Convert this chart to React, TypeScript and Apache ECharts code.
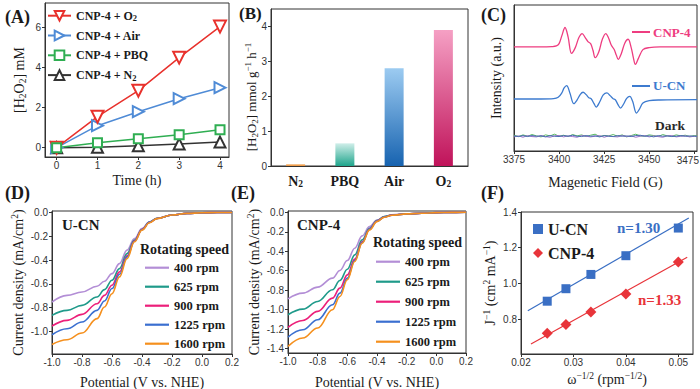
import React, { useEffect, useRef } from 'react';
import * as echarts from 'echarts';

const SERIF = '"Liberation Serif","Times New Roman",serif';
const SANS = '"Liberation Sans",Arial,sans-serif';
const INK = '#1a1a1a';
const AXIS = '#333333';

// ---------- Panel A : H2O2 production vs time ----------
const TIME_H = [0, 1, 2, 3, 4];
const H2O2_O2 = [0, 1.55, 2.85, 4.5, 6.05];
const H2O2_AIR = [0, 1.1, 1.8, 2.45, 3.0];
const H2O2_PBQ = [0, 0.25, 0.45, 0.65, 0.9];
const H2O2_N2 = [0, 0.02, 0.1, 0.18, 0.28];
const A_X_TICKS = [0, 1, 2, 3, 4];
const A_Y_TICKS = [0, 2, 4, 6];

// ---------- Panel B : production rate ----------
const B_CATEGORIES = ['N2', 'PBQ', 'Air', 'O2'];
const B_RATES = [0.05, 0.65, 2.8, 3.9];
const B_Y_TICKS = [0, 1, 2, 3, 4];

// ---------- Panel C : EPR spectra ----------
const EPR_CNP_FIELD = [3375, 3390, 3396, 3398.5, 3400, 3401.5, 3403.3, 3405, 3406.9, 3409, 3411, 3412.8, 3414.5, 3416, 3417.5, 3418.8, 3420, 3422, 3424, 3425.9, 3427.5, 3429, 3430.5, 3431.8, 3432.8, 3434.5, 3436.5, 3438.3, 3440, 3441.2, 3442.3, 3444, 3446.5, 3450, 3456, 3476.5];
const EPR_CNP_INT = [31.0, 31.0, 31.1, 31.3, 32.0, 34.3, 36.8, 34.0, 29.1, 30.8, 33.8, 35.0, 33.8, 32.6, 32.0, 30.0, 27.8, 29.5, 33.3, 35.0, 33.6, 31.5, 30.3, 28.5, 27.3, 29.0, 32.2, 33.3, 30.8, 27.8, 25.8, 27.6, 30.2, 30.8, 31.0, 31.0];
const EPR_UCN_FIELD = [3375, 3390, 3397, 3399.5, 3401.5, 3402.8, 3404.2, 3406, 3408.2, 3410, 3411.8, 3413.3, 3415, 3416.5, 3417.9, 3419.3, 3420.6, 3422.5, 3424.5, 3426.5, 3428.3, 3430, 3431.3, 3432.7, 3434.1, 3435.8, 3437.5, 3439.2, 3440.8, 3442.9, 3444.5, 3446.5, 3450, 3456, 3476.5];
const EPR_UCN_INT = [15.5, 15.5, 15.6, 16.0, 17.3, 18.8, 19.5, 17.3, 14.1, 15.2, 16.9, 17.5, 16.8, 15.9, 15.5, 14.2, 13.1, 14.6, 16.7, 17.3, 16.5, 15.6, 15.2, 13.8, 12.8, 14.0, 15.7, 16.3, 14.8, 11.3, 12.4, 14.3, 15.0, 15.2, 15.3];
const DARK_FIELD = [3375, 3377.5, 3380, 3382.5, 3385, 3387.5, 3390, 3392.5, 3395, 3397.5, 3400, 3402.5, 3405, 3407.5, 3410, 3412.5, 3415, 3417.5, 3420, 3422.5, 3425, 3427.5, 3430, 3432.5, 3435, 3437.5, 3440, 3442.5, 3445, 3447.5, 3450, 3452.5, 3455, 3457.5, 3460, 3462.5, 3465, 3467.5, 3470, 3472.5, 3475, 3476.5];
const DARK_A = [4.7, 4.3, 4.8, 4.4, 4.9, 4.5, 4.2, 4.8, 4.5, 5.0, 4.4, 4.7, 4.3, 4.9, 4.5, 4.8, 4.3, 4.7, 5.0, 4.3, 4.6, 4.5, 4.9, 4.4, 4.8, 4.2, 4.6, 5.0, 4.5, 4.4, 4.8, 4.6, 4.3, 4.9, 4.5, 4.4, 4.8, 4.5, 4.7, 4.3, 4.6, 4.5];
const DARK_B = [4.2, 4.5, 4.1, 4.6, 4.3, 4.2, 4.6, 4.3, 4.1, 4.5, 4.6, 4.2, 4.5, 4.3, 4.1, 4.6, 4.4, 4.2, 4.4, 4.6, 4.1, 4.5, 4.3, 4.2, 4.6, 4.3, 4.5, 4.1, 4.4, 4.6, 4.2, 4.5, 4.3, 4.1, 4.5, 4.6, 4.2, 4.4, 4.5, 4.2, 4.4, 4.3];
const DARK_C = [4.5, 4.3, 4.6, 4.3, 4.6, 4.4, 4.5, 4.2, 4.6, 4.4, 4.3, 4.6, 4.4, 4.7, 4.4, 4.3, 4.6, 4.4, 4.5, 4.2, 4.6, 4.4, 4.3, 4.6, 4.4, 4.5, 4.3, 4.6, 4.7, 4.4, 4.5, 4.2, 4.6, 4.4, 4.5, 4.3, 4.4, 4.6, 4.4, 4.5, 4.4, 4.4];
const C_X_TICKS = [3375, 3400, 3425, 3450, 3475];
const C_X_EDGE_LABEL = '3475';

// ---------- Panels D / E : LSV curves ----------
const POTENTIAL = [-1.0, -0.9, -0.8, -0.7, -0.65, -0.6, -0.55, -0.5, -0.45, -0.4, -0.35, -0.3, -0.2, -0.1, 0.0, 0.1, 0.2];
const RPM_NAMES = ['400 rpm', '625 rpm', '900 rpm', '1225 rpm', '1600 rpm'];
const UCN_400 = [-0.753, -0.697, -0.669, -0.621, -0.579, -0.514, -0.43, -0.317, -0.219, -0.135, -0.079, -0.05, -0.022, -0.008, -0.003, -0.001, 0];
const UCN_625 = [-0.865, -0.823, -0.781, -0.711, -0.649, -0.57, -0.472, -0.346, -0.233, -0.143, -0.081, -0.05, -0.022, -0.008, -0.003, -0.001, 0];
const UCN_900 = [-0.955, -0.907, -0.857, -0.767, -0.697, -0.612, -0.5, -0.365, -0.239, -0.143, -0.084, -0.051, -0.022, -0.008, -0.003, -0.001, 0];
const UCN_1225 = [-1.028, -0.978, -0.921, -0.823, -0.744, -0.64, -0.52, -0.374, -0.242, -0.146, -0.084, -0.051, -0.022, -0.008, -0.003, -0.001, 0];
const UCN_1600 = [-1.11, -1.07, -1.014, -0.893, -0.795, -0.683, -0.542, -0.388, -0.247, -0.149, -0.087, -0.052, -0.022, -0.008, -0.003, -0.001, 0];
const CNP_400 = [-0.888, -0.83, -0.768, -0.676, -0.597, -0.495, -0.369, -0.242, -0.147, -0.079, -0.044, -0.027, -0.017, -0.01, -0.004, -0.001, 0];
const CNP_625 = [-1.052, -0.994, -0.915, -0.795, -0.7, -0.584, -0.437, -0.283, -0.164, -0.085, -0.044, -0.028, -0.017, -0.01, -0.004, -0.001, 0];
const CNP_900 = [-1.18, -1.11, -1.017, -0.881, -0.778, -0.642, -0.481, -0.304, -0.171, -0.089, -0.048, -0.029, -0.017, -0.01, -0.004, -0.001, 0];
const CNP_1225 = [-1.28, -1.205, -1.103, -0.949, -0.83, -0.676, -0.495, -0.311, -0.174, -0.092, -0.048, -0.03, -0.017, -0.01, -0.004, -0.001, 0];
const CNP_1600 = [-1.376, -1.29, -1.188, -1.0, -0.864, -0.693, -0.505, -0.318, -0.181, -0.096, -0.051, -0.031, -0.017, -0.01, -0.004, -0.001, 0];
const LSV_X_TICKS = [-1.0, -0.8, -0.6, -0.4, -0.2, 0.0, 0.2];
const D_Y_TICKS = [-1.0, -0.8, -0.6, -0.4, -0.2, 0.0];
const E_Y_TICKS = [-1.4, -1.2, -1.0, -0.8, -0.6, -0.4, -0.2, 0.0];

// ---------- Panel F : K-L plots ----------
const KL_OMEGA = [0.025, 0.02857, 0.03333, 0.04, 0.05];
const KL_UCN = [0.9, 0.97, 1.05, 1.155, 1.31];
const KL_CNP = [0.72, 0.77, 0.84, 0.94, 1.12];
const FIT_UCN_X = [0.0213, 0.052];
const FIT_UCN_Y = [0.847, 1.366];
const FIT_CNP_X = [0.0219, 0.0517];
const FIT_CNP_Y = [0.66, 1.146];
const F_X_TICKS = [0.02, 0.03, 0.04, 0.05];
const F_Y_TICKS = [0.8, 1.0, 1.2, 1.4];

// ---------- styles ----------
const RED = '#e8312c';
const LBLUE = '#4f8bd6';
const GREEN = '#2fae52';
const DGRAY = '#333333';
const PINK = '#ee3d80';
const EPR_BLUE = '#3d7bcf';
const RPM_COLORS = ['#b38ed6', '#1f9a8a', '#ec1f7a', '#3a6fd0', '#f5901e'];
const BAR_TOP = ['#f4b16a', '#cfeee9', '#9ccbf1', '#f5a0c4'];
const BAR_BOTTOM = ['#ec9440', '#1fa58c', '#1763b0', '#c0135a'];
const F_BLUE = '#3a6fc4';
const F_RED = '#e8343a';

const pairs = (xs: number[], ys: number[]) => xs.map((x, i) => [x, ys[i]]);

const rich = (size: number, bold: boolean, color = INK) => ({
  sub: { fontFamily: SERIF, fontWeight: bold ? 'bold' : 'normal', fontSize: size, lineHeight: size, verticalAlign: 'bottom', color },
  sup: { fontFamily: SERIF, fontWeight: bold ? 'bold' : 'normal', fontSize: size, lineHeight: size, verticalAlign: 'top', color },
});

const nameStyle = (size = 14) => ({
  fontFamily: SERIF,
  fontSize: size,
  color: INK,
  lineHeight: size + 3,
  rich: rich(size * 0.68, false),
});

function axis(opts: any) {
  const { gridIndex, min, max, ticks, labelTicks, fmt, name, nameGap, margin = 4, showLabels = true, showTicks = true, type = 'value', data, labelStyle, nameFont } = opts;
  const isY = opts.isY;
  const a: any = {
    type,
    gridIndex,
    axisLine: { show: true, onZero: false, lineStyle: { color: AXIS, width: 1 } },
    splitLine: { show: false },
    axisTick: { show: showTicks, length: 3, lineStyle: { color: AXIS } },
    axisLabel: {
      show: showLabels,
      fontFamily: SANS,
      fontSize: 10,
      color: AXIS,
      margin,
      ...(labelStyle || {}),
    },
    name,
    nameLocation: 'middle',
    nameGap,
    nameTextStyle: nameStyle(nameFont || 14),
  };
  if (isY) a.nameRotate = 90;
  if (type === 'value') {
    a.min = min;
    a.max = max;
    a.axisLabel.customValues = labelTicks || ticks;
    a.axisTick.customValues = ticks;
    if (fmt) a.axisLabel.formatter = fmt;
  } else {
    a.data = data;
    a.boundaryGap = true;
    a.axisTick.show = false;
    a.axisLabel.interval = 0;
  }
  return a;
}

const f1 = (v: number) => (Math.abs(v) < 1e-9 ? '0.0' : v.toFixed(1));
const f2 = (v: number) => v.toFixed(2);

function bt(x: number, y: number, text: string, size: number, color = INK, weight = 'bold') {
  return {
    type: 'text',
    x,
    y,
    z: 100,
    silent: true,
    style: {
      text,
      fontFamily: SERIF,
      fontWeight: weight,
      fontSize: size,
      fill: color,
      align: 'left',
      verticalAlign: 'middle',
    },
  };
}

function buildOption(): any {
  const grids = [
    { left: 45, top: 3, width: 184, height: 154 },
    { left: 271, top: 9, width: 197, height: 157 },
    { left: 514, top: 5, width: 183, height: 146 },
    { left: 52, top: 211, width: 180, height: 143 },
    { left: 288, top: 211, width: 178, height: 142 },
    { left: 521, top: 212, width: 172, height: 142 },
  ].map((g) => ({ ...g, show: true, borderColor: AXIS, borderWidth: 1, containLabel: false, outerBoundsMode: 'none' }));

  const xAxes = [
    axis({ gridIndex: 0, min: -0.285, max: 4.22, ticks: A_X_TICKS, fmt: (v: number) => String(v), name: 'Time (h)', nameGap: 15, margin: 3 }),
    axis({
      gridIndex: 1, type: 'category', data: B_CATEGORIES, name: '', nameGap: 0, margin: 7,
      labelStyle: {
        fontFamily: SERIF, fontWeight: 'bold', fontSize: 14, color: INK, lineHeight: 16,
        rich: rich(9.5, true),
        formatter: (v: string) => (v === 'N2' ? 'N{sub|2}' : v === 'O2' ? 'O{sub|2}' : v),
      },
    }),
    axis({ gridIndex: 2, min: 3375, max: 3476.5, ticks: C_X_TICKS, labelTicks: C_X_TICKS.slice(0, 4), fmt: (v: number) => String(v), name: 'Magenetic Field (G)', nameGap: 23, margin: 3 }),
    axis({ gridIndex: 3, min: -1.0, max: 0.2, ticks: LSV_X_TICKS, fmt: f1, name: 'Potential (V vs. NHE)', nameGap: 20, margin: 3 }),
    axis({ gridIndex: 4, min: -1.0, max: 0.2, ticks: LSV_X_TICKS, fmt: f1, name: 'Potential (V vs. NHE)', nameGap: 21, margin: 3 }),
    axis({ gridIndex: 5, min: 0.02, max: 0.0528, ticks: F_X_TICKS, fmt: f2, name: 'ω{sup|−1/2} (rpm{sup|−1/2})', nameGap: 17, margin: 3 }),
  ];
  const yAxes = [
    axis({ isY: true, gridIndex: 0, min: -0.465, max: 7.23, ticks: A_Y_TICKS, fmt: (v: number) => String(v), name: '[H{sub|2}O{sub|2}] mM', nameGap: 17 }),
    axis({ isY: true, gridIndex: 1, min: 0, max: 4.5, ticks: B_Y_TICKS, fmt: (v: number) => String(v), name: '', nameGap: 12 }),
    axis({ isY: true, gridIndex: 2, min: 0, max: 43.5, ticks: [], name: 'Intensity (a.u.)', nameGap: 9, showLabels: false, showTicks: false }),
    axis({ isY: true, gridIndex: 3, min: -1.19, max: 0.012, ticks: D_Y_TICKS, fmt: f1, name: 'Current density (mA/cm{sup|2})', nameGap: 17 }),
    axis({ isY: true, gridIndex: 4, min: -1.444, max: 0.013, ticks: E_Y_TICKS, fmt: f1, name: 'Current density (mA/cm{sup|2})', nameGap: 23 }),
    axis({ isY: true, gridIndex: 5, min: 0.604, max: 1.4, ticks: F_Y_TICKS, fmt: f1, name: 'J{sup|−1} (cm{sup|2} mA{sup|−1})', nameGap: 18 }),
  ];

  const series: any[] = [];

  // Panel A
  const aLine = (name: string, ys: number[], color: string, symbol: string, rotate: number, size: number) => ({
    type: 'line', name, xAxisIndex: 0, yAxisIndex: 0,
    data: pairs(TIME_H, ys),
    symbol, symbolRotate: rotate, symbolSize: size,
    lineStyle: { color, width: 1.5 },
    itemStyle: { color, borderColor: color, borderWidth: 1.5 },
  });
  series.push(aLine('CNP-4 + N₂', H2O2_N2, DGRAY, 'emptyTriangle', 0, 11));
  series.push(aLine('CNP-4 + Air', H2O2_AIR, LBLUE, 'emptyTriangle', -90, 11));
  series.push(aLine('CNP-4 + O₂', H2O2_O2, RED, 'emptyTriangle', 180, 12));
  series.push(aLine('CNP-4 + PBQ', H2O2_PBQ, GREEN, 'emptyRect', 0, 9));

  // Panel B
  series.push({
    type: 'bar', name: 'rate', xAxisIndex: 1, yAxisIndex: 1, barWidth: 19,
    data: B_RATES.map((v, i) => ({
      value: v,
      itemStyle: {
        color: new echarts.graphic.LinearGradient(0, 0, 0, 1, [
          { offset: 0, color: BAR_TOP[i] },
          { offset: 1, color: BAR_BOTTOM[i] },
        ]),
      },
    })),
  });

  // Panel C
  const cLine = (name: string, xs: number[], ys: number[], color: string, width: number, smooth: boolean) => ({
    type: 'line', name, xAxisIndex: 2, yAxisIndex: 2, data: pairs(xs, ys),
    showSymbol: false, symbol: 'none', smooth: smooth ? 0.35 : false,
    lineStyle: { color, width },
  });
  series.push(cLine('dark-a', DARK_FIELD, DARK_A, '#58b95e', 1, false));
  series.push(cLine('dark-b', DARK_FIELD, DARK_B, '#9b6dca', 1, false));
  series.push(cLine('dark-c', DARK_FIELD, DARK_C, '#4b6eb3', 1, false));
  series.push(cLine('U-CN EPR', EPR_UCN_FIELD, EPR_UCN_INT, EPR_BLUE, 1.3, true));
  series.push(cLine('CNP-4 EPR', EPR_CNP_FIELD, EPR_CNP_INT, PINK, 1.3, true));

  // Panels D, E
  const dSets = [UCN_400, UCN_625, UCN_900, UCN_1225, UCN_1600];
  const eSets = [CNP_400, CNP_625, CNP_900, CNP_1225, CNP_1600];
  [dSets, eSets].forEach((sets, k) => {
    sets.forEach((ys, i) => {
      series.push({
        type: 'line', name: RPM_NAMES[i], xAxisIndex: 3 + k, yAxisIndex: 3 + k,
        data: pairs(POTENTIAL, ys), showSymbol: false, symbol: 'none',
        smooth: 0.4, smoothMonotone: 'x',
        lineStyle: { color: RPM_COLORS[i], width: 1.6 },
        itemStyle: { color: RPM_COLORS[i] },
      });
    });
  });

  // Panel F
  series.push({
    type: 'line', name: 'fit-ucn', xAxisIndex: 5, yAxisIndex: 5, data: pairs(FIT_UCN_X, FIT_UCN_Y),
    symbol: 'none', lineStyle: { color: F_BLUE, width: 1.2 },
  });
  series.push({
    type: 'line', name: 'fit-cnp', xAxisIndex: 5, yAxisIndex: 5, data: pairs(FIT_CNP_X, FIT_CNP_Y),
    symbol: 'none', lineStyle: { color: F_RED, width: 1.2 },
  });
  series.push({
    type: 'scatter', name: 'U-CN', xAxisIndex: 5, yAxisIndex: 5, data: pairs(KL_OMEGA, KL_UCN),
    symbol: 'rect', symbolSize: 9, itemStyle: { color: F_BLUE, opacity: 1 }, z: 5,
  });
  series.push({
    type: 'scatter', name: 'CNP-4', xAxisIndex: 5, yAxisIndex: 5, data: pairs(KL_OMEGA, KL_CNP),
    symbol: 'diamond', symbolSize: 11, itemStyle: { color: F_RED, opacity: 1 }, z: 5,
  });

  const legText = (size: number, lh: number) => ({
    fontFamily: SERIF, fontWeight: 'bold', fontSize: size, color: INK, lineHeight: lh,
    rich: rich(8.5, true),
  });

  const legends: any[] = [
    {
      data: ['CNP-4 + O₂', 'CNP-4 + Air', 'CNP-4 + PBQ', 'CNP-4 + N₂'],
      orient: 'vertical', left: 47, top: 8.7, itemWidth: 23, itemHeight: 12, itemGap: 5.8,
      textStyle: legText(12, 14),
      formatter: (n: string) => n.replace(/₂/g, '{sub|2}'),
    },
    {
      data: RPM_NAMES, orient: 'vertical', left: 145, top: 260.7, itemWidth: 24, itemHeight: 2.2, itemGap: 5,
      textStyle: legText(12.5, 14), icon: 'rect',
    },
    {
      data: RPM_NAMES, orient: 'vertical', left: 376, top: 254.7, itemWidth: 24, itemHeight: 2.2, itemGap: 6,
      textStyle: legText(12.5, 14), icon: 'rect',
    },
    {
      data: ['U-CN', 'CNP-4'], orient: 'vertical', left: 533, top: 220, itemWidth: 10, itemHeight: 10, itemGap: 6,
      textStyle: legText(16, 18),
    },
  ].map((l: any) => ({ ...l, selectedMode: false, padding: 0, show: true }));

  const graphic: any[] = [
    bt(5, 17, '(A)', 18),
    bt(239, 13, '(B)', 17),
    bt(481, 15, '(C)', 18),
    bt(5, 193, '(D)', 18),
    bt(231, 193, '(E)', 18),
    bt(481, 193, '(F)', 18),
    // panel B y-axis title (rotated)
    {
      type: 'text', x: 251, y: 97, rotation: Math.PI / 2, z: 100, silent: true,
      style: {
        text: '[H{sub|2}O{sub|2}] mmol g{sup|−1} h{sup|−1}',
        fontFamily: SERIF, fontSize: 13, fill: INK, lineHeight: 16,
        align: 'center', verticalAlign: 'middle',
        rich: {
          sub: { fontFamily: SERIF, fontSize: 9, lineHeight: 9, verticalAlign: 'bottom', fill: INK },
          sup: { fontFamily: SERIF, fontSize: 9, lineHeight: 9, verticalAlign: 'top', fill: INK },
        },
      },
    },
    // panel C edge tick label (kept inside the page)
    {
      type: 'text', x: 699, y: 160, z: 100, silent: true,
      style: { text: C_X_EDGE_LABEL, fontFamily: SANS, fontSize: 10, fill: AXIS, align: 'right', verticalAlign: 'middle' },
    },
    // panel C labels
    { type: 'line', z: 100, shape: { x1: 632, y1: 32, x2: 650, y2: 32 }, style: { stroke: PINK, lineWidth: 2 } },
    bt(653, 32, 'CNP-4', 13, PINK),
    { type: 'line', z: 100, shape: { x1: 632, y1: 86, x2: 650, y2: 86 }, style: { stroke: EPR_BLUE, lineWidth: 2 } },
    bt(653, 85, 'U-CN', 13, EPR_BLUE),
    bt(655, 125, 'Dark', 13.5, '#2a2a2a'),
    // panel D / E labels
    bt(62, 225, 'U-CN', 15),
    bt(140, 249, 'Rotating speed', 14),
    bt(297, 225, 'CNP-4', 15),
    bt(373, 242, 'Rotating speed', 14),
    // panel F labels
    bt(617, 228, 'n=1.30', 15, F_BLUE),
    bt(638, 300, 'n=1.33', 15, F_RED),
  ];

  return {
    animation: false,
    backgroundColor: '#ffffff',
    textStyle: { fontFamily: SERIF },
    grid: grids,
    xAxis: xAxes,
    yAxis: yAxes,
    legend: legends,
    series,
    graphic,
  };
}

export default function App() {
  const ref = useRef<HTMLDivElement>(null);
  useEffect(() => {
    if (!ref.current) return;
    const chart = echarts.init(ref.current, null, { renderer: 'svg' });
    chart.setOption(buildOption());
    return () => chart.dispose();
  }, []);
  return (
    <div
      ref={ref}
      style={{ position: 'absolute', left: 0, top: 0, width: 700, height: 389, background: '#fff' }}
    />
  );
}
